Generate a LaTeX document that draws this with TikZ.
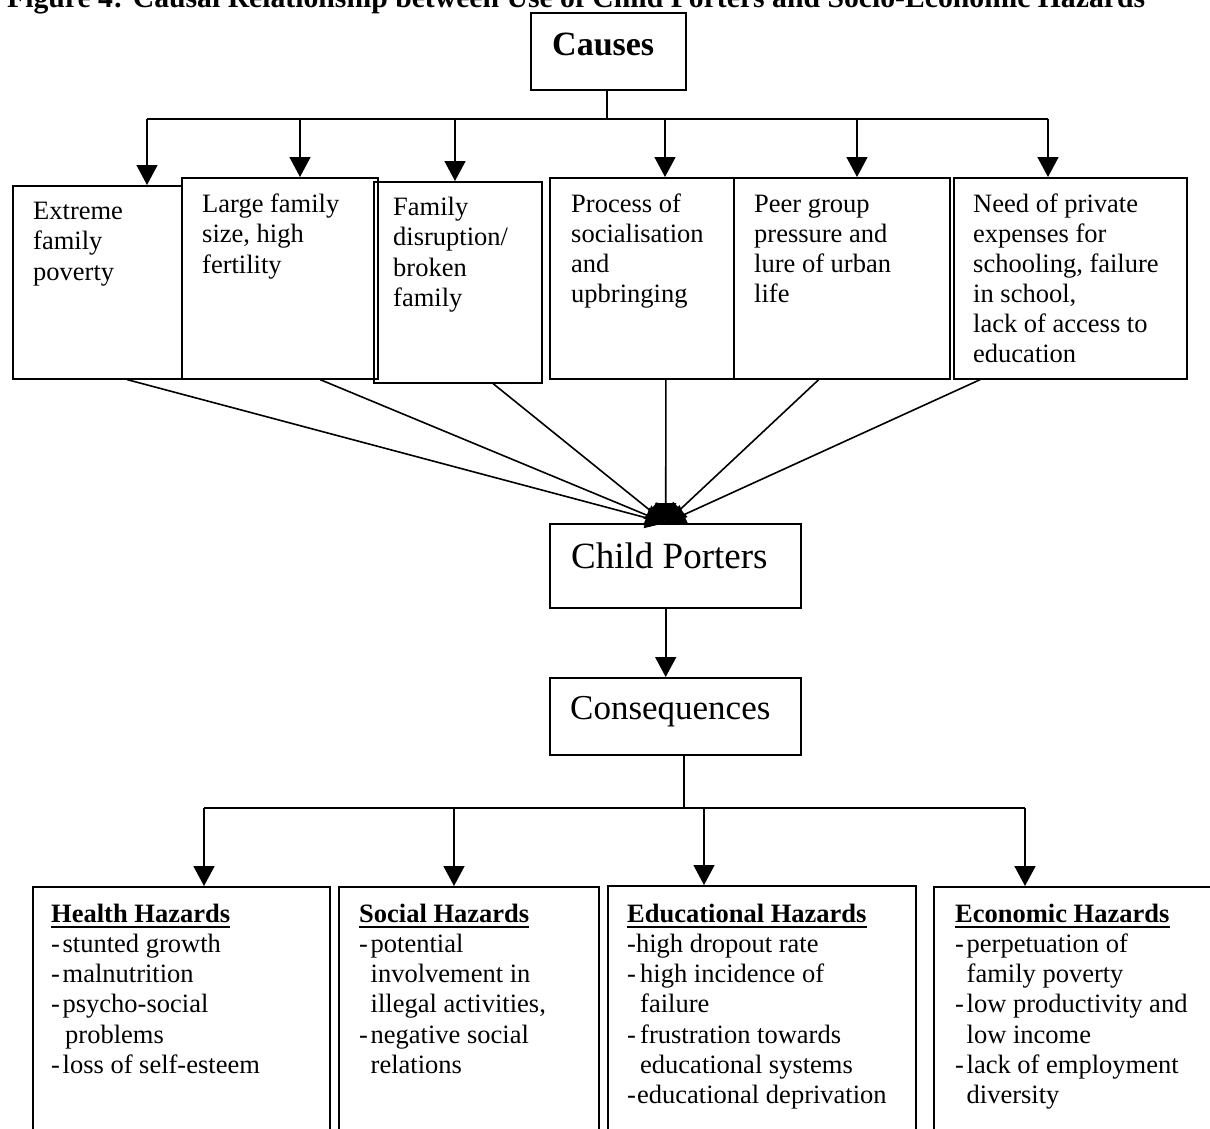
\documentclass[tikz,border=0pt]{standalone}
\usepackage{fontspec}
\setmainfont{Liberation Serif}
\usetikzlibrary{arrows.meta,calc}
\begin{document}
\begin{tikzpicture}[x=1pt,y=-1pt,
  box/.style={draw, line width=1.6pt, inner sep=0, anchor=north west},
  txt/.style={inner sep=0, anchor=base west, font=\fontsize{26.5}{30}\selectfont},
  btxt/.style={inner sep=0, anchor=base west, font=\bfseries\fontsize{26.5}{30}\selectfont},
  conn/.style={line width=1.6pt},
  arr/.style={line width=1.6pt, -{Triangle[length=20pt,width=21pt]}},
  uline/.style={line width=2pt},
]
\useasboundingbox (0,0) rectangle (1210,1128);
\clip (0,0) rectangle (1210,1128);

% title (cut at the top, as in the reference)
\node[btxt, font=\bfseries\fontsize{29.7}{33}\selectfont] (title) at (7,7) {Figure 4: Causal Relationship between Use of Child Porters and Socio-Economic Hazards};

% causes
\node[box, minimum width=155pt, minimum height=77pt] (causes) at (530,12) {};
\node[btxt, font=\bfseries\fontsize{34}{40}\selectfont] (causest) at (552,55) {Causes};

% cause boxes
\node[box, minimum width=169pt, minimum height=193pt] (b1) at (12,185) {};
\node[box, minimum width=196pt, minimum height=201pt] (b2) at (181,177) {};
\node[box, minimum width=168pt, minimum height=201pt] (b3) at (373,181) {};
\node[box, minimum width=184pt, minimum height=201pt] (b4) at (549,177) {};
\node[box, minimum width=216pt, minimum height=201pt] (b5) at (733,177) {};
\node[box, minimum width=233pt, minimum height=201pt] (b6) at (953,177) {};

\foreach \t [count=\i from 0] in {Extreme, family, poverty}
  \node[txt] (b1l\i) at (33,{219+30.5*\i}) {\t};
\foreach \t [count=\i from 0] in {Large family, {size, high}, fertility}
  \node[txt] (b2l\i) at (202,{212+30.5*\i}) {\t};
\foreach \t [count=\i from 0] in {Family, disruption/, broken, family}
  \node[txt] (b3l\i) at (393,{215+30.5*\i}) {\t};
\foreach \t [count=\i from 0] in {Process of, socialisation, and, upbringing}
  \node[txt] (b4l\i) at (571,{212+30*\i}) {\t};
\foreach \t [count=\i from 0] in {Peer group, pressure and, lure of urban, life}
  \node[txt] (b5l\i) at (754,{212+30*\i}) {\t};
\foreach \t [count=\i from 0] in {Need of private, expenses for, {schooling, failure}, {in school,}, lack of access to, education}
  \node[txt] (b6l\i) at (973,{212+30*\i}) {\t};

% bus from causes
\coordinate (c1) at (147,119);
\coordinate (c2) at (300,119);
\coordinate (c3) at (455,119);
\coordinate (c4) at (665,119);
\coordinate (c5) at (857,119);
\coordinate (c6) at (1048,119);
\draw[conn] (causes.south -| 607,0) -- (607,119);
\draw[conn] (c1) -- (c6);
\draw[arr] (c1) -- (c1 |- b1.north);
\draw[arr] (c2) -- (c2 |- b2.north);
\draw[arr] (c3) -- (c3 |- b3.north);
\draw[arr] (c4) -- (c4 |- b4.north);
\draw[arr] (c5) -- (c5 |- b5.north);
\draw[arr] (c6) -- (c6 |- b6.north);

% child porters
\node[box, minimum width=251pt, minimum height=84pt] (cp) at (549,523) {};
\node[txt, font=\fontsize{37}{42}\selectfont] (cpt) at (571,568) {Child Porters};
\coordinate (tip) at ($(cp.north west)!0.462!(cp.north east)$);

\draw[arr] ($(b1.south west)!0.675!(b1.south east)$) -- (tip);
\draw[arr] ($(b2.south west)!0.704!(b2.south east)$) -- (tip);
\draw[arr] ($(b3.south west)!0.708!(b3.south east)$) -- (tip);
\draw[arr] ($(b4.south west)!0.630!(b4.south east)$) -- (tip);
\draw[arr] ($(b5.south west)!0.394!(b5.south east)$) -- (tip);
\draw[arr] ($(b6.south west)!0.116!(b6.south east)$) -- (tip);

% consequences
\node[box, minimum width=251pt, minimum height=77pt] (cq) at (549,677) {};
\node[txt, font=\fontsize{35}{40}\selectfont] (cqt) at (570,719) {Consequences};
\coordinate (cpb) at ($(cp.south west)!0.462!(cp.south east)$);
\draw[arr] (cpb) -- (cpb |- cq.north);

% bus to hazards
\coordinate (d1) at (204,808);
\coordinate (d2) at (454,808);
\coordinate (d3) at (704,808);
\coordinate (d4) at (1025,808);
\coordinate (cqb) at ($(cq.south west)!0.534!(cq.south east)$);
\draw[conn] (cqb) -- (cqb |- d1);
\draw[conn] (d1) -- (d4);

% hazard boxes
\node[box, minimum width=297pt, minimum height=260pt] (hh) at (32,886) {};
\node[box, minimum width=260pt, minimum height=260pt] (sh) at (338,886) {};
\node[box, minimum width=308pt, minimum height=260pt] (eh) at (607,885) {};
\node[box, minimum width=290pt, minimum height=260pt] (ch) at (933,886) {};
\draw[arr] (d1) -- (d1 |- hh.north);
\draw[arr] (d2) -- (d2 |- sh.north);
\draw[arr] (d3) -- (d3 |- eh.north);
\draw[arr] (d4) -- (d4 |- ch.north);

% headings
\node[btxt] (hht) at (51,922) {Health Hazards};
\node[btxt] (sht) at (359,922) {Social Hazards};
\node[btxt] (eht) at (627,922) {Educational Hazards};
\node[btxt] (cht) at (955,922) {Economic Hazards};
\foreach \n in {hht,sht,eht,cht}
  \draw[uline] ([yshift=-5pt]\n.base west) -- ([yshift=-5pt]\n.base east);

% items
\foreach \t [count=\i] in {{\makebox[11.5pt][l]{-}stunted growth}, {\makebox[11.5pt][l]{-}malnutrition}, {\makebox[11.5pt][l]{-}psycho-social}, {\hspace*{14pt}problems}, {\makebox[11.5pt][l]{-}loss of self-esteem}}
  \node[txt] (hhl\i) at (51,{922+30.3*\i}) {\t};
\foreach \t [count=\i] in {{\makebox[11.5pt][l]{-}potential}, {\hspace*{11.5pt}involvement in}, {\hspace*{11.5pt}illegal activities,}, {\makebox[11.5pt][l]{-}negative social}, {\hspace*{11.5pt}relations}}
  \node[txt] (shl\i) at (359,{922+30.3*\i}) {\t};
\foreach \t [count=\i] in {{-high dropout rate}, {\makebox[13pt][l]{-}high incidence of}, {\hspace*{13pt}failure}, {\makebox[13pt][l]{-}frustration towards}, {\hspace*{13pt}educational systems}, {\makebox[10pt][l]{-}educational deprivation}}
  \node[txt] (ehl\i) at (627,{922+30.3*\i}) {\t};
\foreach \t [count=\i] in {{\makebox[11.5pt][l]{-}perpetuation of}, {\hspace*{11.5pt}family poverty}, {\makebox[11.5pt][l]{-}low productivity and}, {\hspace*{11.5pt}low income}, {\makebox[11.5pt][l]{-}lack of employment}, {\hspace*{11.5pt}diversity}}
  \node[txt] (chl\i) at (955,{922+30.3*\i}) {\t};
\end{tikzpicture}
\end{document}
